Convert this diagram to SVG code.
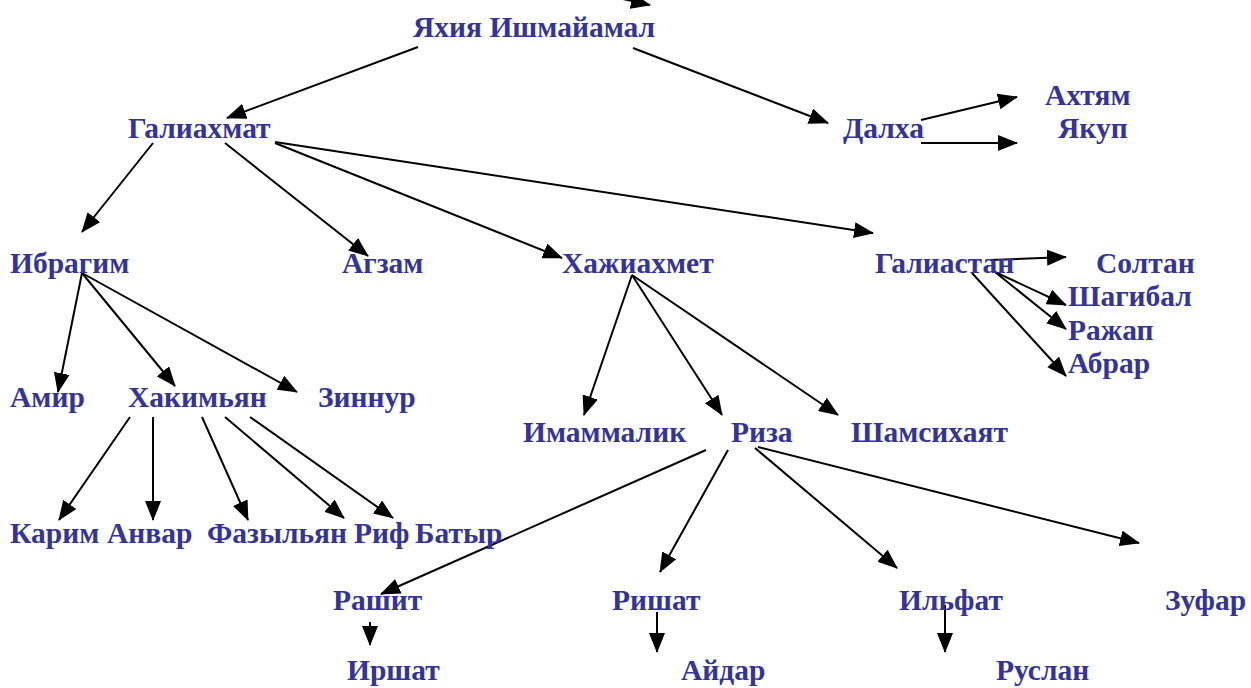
<svg xmlns="http://www.w3.org/2000/svg" width="1251" height="688" viewBox="0 0 1251 688">
<defs>
<style>
.t{font-family:"Liberation Serif","Times New Roman",serif;font-weight:bold;font-size:29.5px;fill:#333399}
.c line{stroke:#000;stroke-width:2;marker-end:url(#ah)}
</style>
<marker id="ah" markerUnits="userSpaceOnUse" markerWidth="20" markerHeight="16" viewBox="0 0 20 16" refX="19" refY="8" orient="auto">
<path d="M0,0 L20,8 L0,16 z" fill="#000"/>
</marker>
</defs>
<rect width="1251" height="688" fill="#fff"/>
<g class="c" id="connectors">
<line x1="560" y1="-15" x2="650" y2="5"/>
<line x1="418" y1="47" x2="227" y2="118"/>
<line x1="633" y1="48" x2="828" y2="123"/>
<line x1="153" y1="143" x2="82" y2="232"/>
<line x1="225" y1="143" x2="368" y2="256"/>
<line x1="275" y1="143" x2="562" y2="258"/>
<line x1="275" y1="142" x2="873" y2="233"/>
<line x1="921" y1="120" x2="1017" y2="97"/>
<line x1="921" y1="143" x2="1017" y2="143"/>
<line x1="82" y1="273" x2="58" y2="392"/>
<line x1="82" y1="273" x2="175" y2="386"/>
<line x1="82" y1="273" x2="297" y2="392"/>
<line x1="632" y1="275" x2="584" y2="415"/>
<line x1="632" y1="275" x2="722" y2="415"/>
<line x1="632" y1="275" x2="838" y2="415"/>
<line x1="990" y1="260" x2="1066" y2="257"/>
<line x1="995" y1="272" x2="1066" y2="305"/>
<line x1="995" y1="272" x2="1066" y2="329"/>
<line x1="972" y1="273" x2="1066" y2="376"/>
<line x1="130" y1="417" x2="59" y2="520"/>
<line x1="153" y1="417" x2="153" y2="520"/>
<line x1="202" y1="417" x2="248" y2="520"/>
<line x1="225" y1="417" x2="344" y2="518"/>
<line x1="250" y1="417" x2="393" y2="518"/>
<line x1="706" y1="450" x2="381" y2="594"/>
<line x1="728" y1="450" x2="660" y2="572"/>
<line x1="755" y1="448" x2="897" y2="568"/>
<line x1="758" y1="447" x2="1139" y2="543"/>
<line x1="370" y1="622" x2="370" y2="645"/>
<line x1="657" y1="612" x2="657" y2="652"/>
<line x1="945" y1="605" x2="945" y2="652"/>
</g>
<g id="n-yahya"><text class="t" x="413" y="37">Яхия Ишмайамал</text></g>
<g id="n-galiahmat"><text class="t" x="128" y="138">Галиахмат</text></g>
<g id="n-dalha"><text class="t" x="843" y="138">Далха</text></g>
<g id="n-ahtyam"><text class="t" x="1045" y="105">Ахтям</text></g>
<g id="n-yakup"><text class="t" x="1058" y="138">Якуп</text></g>
<g id="n-ibragim"><text class="t" x="10" y="273">Ибрагим</text></g>
<g id="n-agzam"><text class="t" x="342" y="273">Агзам</text></g>
<g id="n-hazhiahmet"><text class="t" x="562" y="273">Хажиахмет</text></g>
<g id="n-galiastan"><text class="t" x="875" y="273">Галиастан</text></g>
<g id="n-soltan"><text class="t" x="1096" y="273">Солтан</text></g>
<g id="n-shagibal"><text class="t" x="1068" y="306">Шагибал</text></g>
<g id="n-razhap"><text class="t" x="1068" y="340">Ражап</text></g>
<g id="n-abrar"><text class="t" x="1068" y="373">Абрар</text></g>
<g id="n-amir"><text class="t" x="10" y="407">Амир</text></g>
<g id="n-hakimyan"><text class="t" x="128" y="407">Хакимьян</text></g>
<g id="n-zinnur"><text class="t" x="318" y="407">Зиннур</text></g>
<g id="n-imammalik"><text class="t" x="523" y="442">Имаммалик</text></g>
<g id="n-riza"><text class="t" x="731" y="442">Риза</text></g>
<g id="n-shamsihayat"><text class="t" x="851" y="442">Шамсихаят</text></g>
<g id="n-karim"><text class="t" x="10" y="543">Карим</text></g>
<g id="n-anvar"><text class="t" x="107" y="543">Анвар</text></g>
<g id="n-fazylyan"><text class="t" x="207" y="543">Фазыльян</text></g>
<g id="n-rif"><text class="t" x="354" y="543">Риф</text></g>
<g id="n-batyr"><text class="t" x="415" y="543">Батыр</text></g>
<g id="n-rashit"><text class="t" x="333" y="610">Рашит</text></g>
<g id="n-rishat"><text class="t" x="612" y="610">Ришат</text></g>
<g id="n-ilfat"><text class="t" x="899" y="610">Ильфат</text></g>
<g id="n-zufar"><text class="t" x="1165" y="610">Зуфар</text></g>
<g id="n-irshat"><text class="t" x="347" y="680">Иршат</text></g>
<g id="n-aydar"><text class="t" x="681" y="680">Айдар</text></g>
<g id="n-ruslan"><text class="t" x="996" y="680">Руслан</text></g>
</svg>
